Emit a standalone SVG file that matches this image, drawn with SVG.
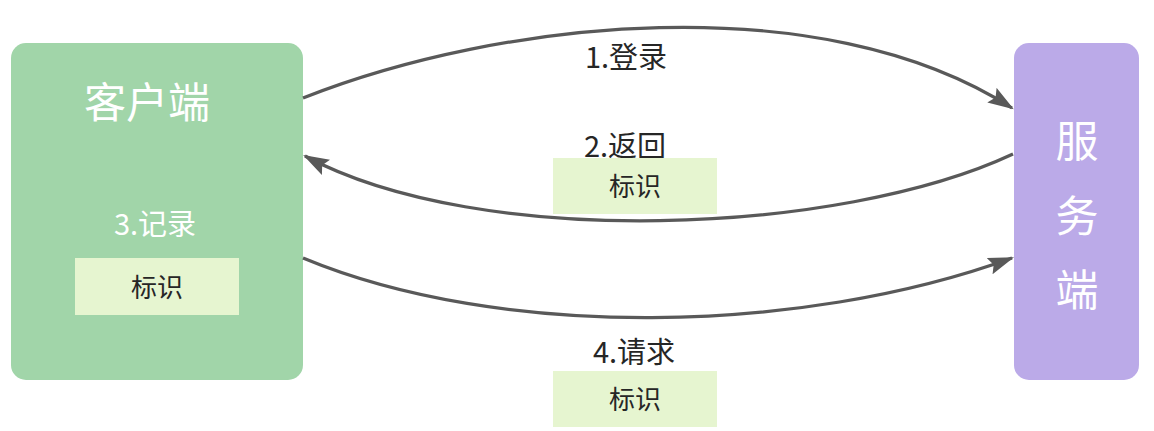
<svg xmlns="http://www.w3.org/2000/svg" width="1154" height="431" viewBox="0 0 1154 431">
  <style>
    .cjk { font-family: "Noto Sans CJK SC", "Microsoft YaHei", sans-serif; }
    .white { fill: #ffffff; }
    .dark { fill: #262626; }
    .tag { fill: #E6F5D0; }
    .conn { fill: none; stroke: #595959; stroke-width: 3.2; }
  </style>
  <defs>
    <marker id="arrow" markerUnits="userSpaceOnUse" markerWidth="26" markerHeight="18" viewBox="0 0 24 16" refX="22" refY="8" orient="auto">
      <path d="M0,0 L24,8 L0,16 L4,8 Z" fill="#595959"/>
    </marker>
  </defs>
  <rect width="1154" height="431" fill="#ffffff"/>

  <g id="client">
    <rect x="11" y="43" width="292" height="337" rx="15" ry="15" fill="#A1D5A9"/>
    <text class="cjk white" x="147" y="118" font-size="42" text-anchor="middle">客户端</text>
    <text class="cjk white" x="155" y="235" font-size="29" text-anchor="middle">3.记录</text>
    <rect class="tag" x="75" y="258" width="164" height="57"/>
    <text class="cjk dark" x="157" y="297" font-size="26" text-anchor="middle">标识</text>
  </g>

  <g id="server">
    <rect x="1014" y="43" width="125" height="337" rx="15" ry="15" fill="#BBAAE8"/>
    <text class="cjk white" x="1077" y="157" font-size="43" text-anchor="middle">服</text>
    <text class="cjk white" x="1077" y="232" font-size="43" text-anchor="middle">务</text>
    <text class="cjk white" x="1077" y="306" font-size="43" text-anchor="middle">端</text>
  </g>

  <g id="connectors">
    <path class="conn" d="M303,98 C500,20 820,-15 1012,108" marker-end="url(#arrow)"/>
    <path class="conn" d="M1013,154 C840,235 480,250 305,156" marker-end="url(#arrow)"/>
    <path class="conn" d="M303,258 C500,340 800,335 1012,258" marker-end="url(#arrow)"/>
  </g>

  <g id="label-login">
    <text class="cjk dark" x="626" y="68" font-size="29" text-anchor="middle">1.登录</text>
  </g>
  <g id="label-return">
    <text class="cjk dark" x="625" y="157" font-size="29" text-anchor="middle">2.返回</text>
    <rect class="tag" x="553" y="158" width="164" height="56"/>
    <text class="cjk dark" x="635" y="196" font-size="26" text-anchor="middle">标识</text>
  </g>
  <g id="label-request">
    <text class="cjk dark" x="634" y="363" font-size="29" text-anchor="middle">4.请求</text>
    <rect class="tag" x="553" y="371" width="164" height="56"/>
    <text class="cjk dark" x="635" y="409" font-size="26" text-anchor="middle">标识</text>
  </g>
</svg>
